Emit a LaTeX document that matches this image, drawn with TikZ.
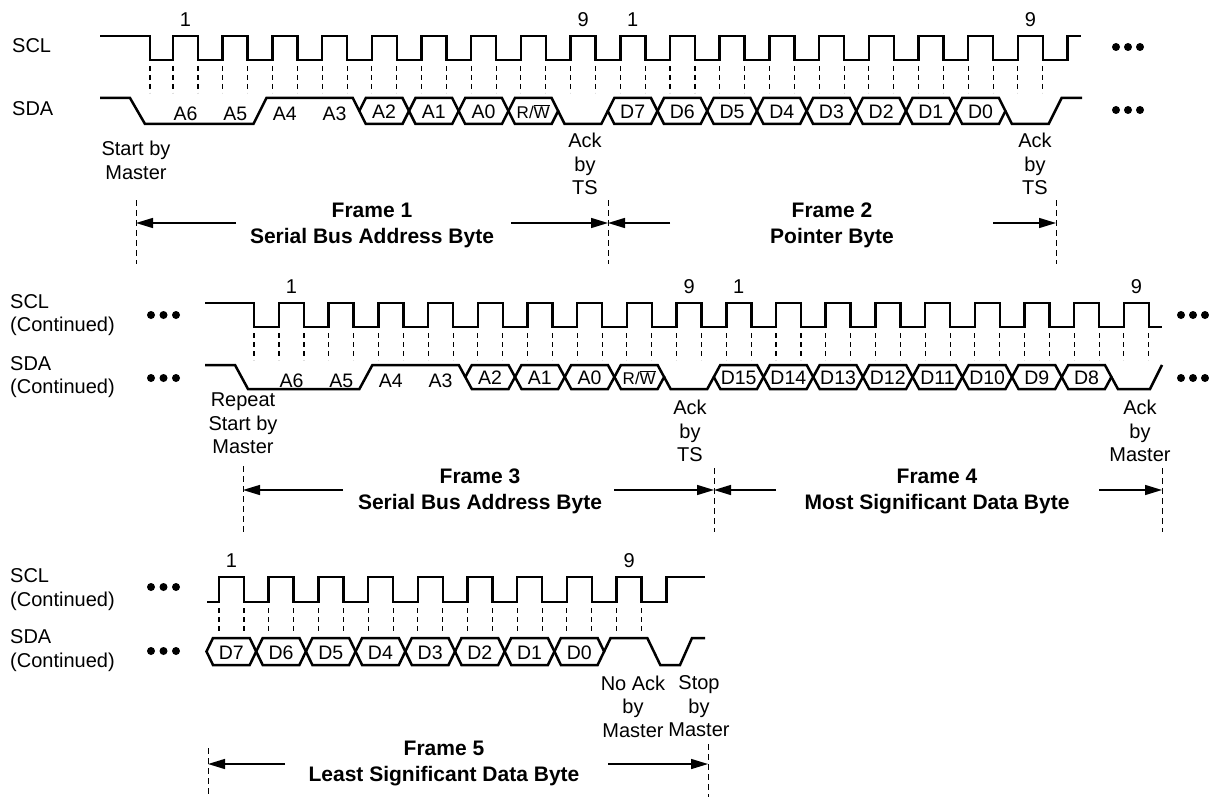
\documentclass[tikz,border=0pt]{standalone}
\usepackage{fontspec}
\setmainfont{Liberation Sans}
\usetikzlibrary{arrows.meta}
\def\per{49.7}
\def\dd{6.5}
\tikzset{
 sig/.style={line width=2.5pt, line join=miter},
 tick/.style={line width=1.1pt, dash pattern=on 5pt off 4pt},
 sep/.style={line width=1pt, dash pattern=on 6pt off 4pt},
 farrow/.style={line width=1.4pt, -{Triangle[length=17pt,width=10pt]}},
 txt/.style={font=\fontsize{20}{23.5}\selectfont, inner sep=0pt, align=center},
 btxt/.style={font=\bfseries\fontsize{21}{26}\selectfont, inner sep=0pt, align=center},
 bit/.style={font=\fontsize{19.5}{20}\selectfont, inner sep=0pt},
 rwbit/.style={font=\fontsize{17}{17}\selectfont, inner sep=0pt},
}
% hexagonal data cell: #1 start, #2 end, #3 top y, #4 bottom y, #5 label, #6 name, #7 label style
\newcommand{\hexb}[7]{%
 \pgfmathsetmacro\ha{#1}\pgfmathsetmacro\hb{#2}\pgfmathsetmacro\hm{(#3+#4)/2}%
 \draw[sig] (\ha,\hm) -- ({\ha+\dd},#3) -- ({\hb-\dd},#3) -- (\hb,\hm) -- ({\hb-\dd},#4) -- ({\ha+\dd},#4) -- cycle;
 \node[#7] (#6) at ({(\ha+\hb)/2},{\hm+1}) {#5};
}
\begin{document}
\begin{tikzpicture}[x=1pt,y=-1pt]
\fill[white] (0,0) rectangle (1209,797);
\useasboundingbox (0,0) rectangle (1209,797);

% ================= ROW 1 =================
\node[txt, anchor=west] (scl1) at (12,46) {SCL};
\node[txt, anchor=west] (sda1) at (12,109) {SDA};
\draw[sig] (100,36) -- (150,36) -- (150,60)
 \foreach \k in {0,...,17}{ -- ({173+\k*\per},60) -- ({173+\k*\per},36) -- ({198+\k*\per},36) -- ({198+\k*\per},60) }
 -- ({173+18*\per},60) -- ({173+18*\per},36) -- (1081,36);
\draw[tick] (150,66) -- ++(0,27);
\foreach \k in {0,...,17}{
 \draw[tick] ({173+\k*\per},66) -- ++(0,27);
 \draw[tick] ({198+\k*\per},66) -- ++(0,27);
}
\node[txt] (n1a) at ({173+12.5},20) {1};
\node[txt] (n1b) at ({173+8*\per+12.5},20) {9};
\node[txt] (n1c) at ({173+9*\per+12.5},20) {1};
\node[txt] (n1d) at ({173+17*\per+12.5},20) {9};
% SDA row 1
\draw[sig] (100,98) -- (130,98) -- (145,124) -- ({173+2*\per-12.5-\dd},124) -- ({173+2*\per-12.5+\dd},98)
 -- ({173+4*\per-12.5-\dd},98) -- ({173+4*\per-12.5},111);
\foreach \k/\lab in {0/A6,1/A5,2/A4,3/A3}{ \node[bit] (r1l\k) at ({173+\k*\per+12.5},114) {\lab}; }
\foreach \k/\lab in {4/A2,5/A1,6/A0}{ \hexb{173+\k*\per-12.5}{173+\k*\per+\per-12.5}{98}{124}{\lab}{r1b\k}{bit} }
\hexb{173+7*\per-12.5}{173+8*\per-12.5}{98}{124}{R/$\overline{\mbox{W}}$}{r1rw}{rwbit}
\draw[sig] ({173+8*\per-12.5},111) -- ({173+8*\per-12.5+\dd},124) -- ({173+9*\per-12.5-\dd},124) -- ({173+9*\per-12.5},111);
\foreach \k/\lab in {9/D7,10/D6,11/D5,12/D4,13/D3,14/D2,15/D1,16/D0}{ \hexb{173+\k*\per-12.5}{173+\k*\per+\per-12.5}{98}{124}{\lab}{r1d\k}{bit} }
\draw[sig] ({173+17*\per-12.5},111) -- ({173+17*\per-12.5+\dd},124) -- ({173+18*\per-12.5-\dd},124) -- ({173+18*\per-12.5+\dd},98) -- (1082,98);
\foreach \x in {1116,1128,1140}{ \fill (\x,47) circle (4); \fill (\x,110) circle (4); }
% annotations row 1
\node[txt] (st1) at (136,160.5) {Start by\\Master};
\node[txt] (ack1) at (585,164) {Ack\\by\\TS};
\node[txt] (ack2) at (1035,164) {Ack\\by\\TS};
\coordinate (f1a) at (136,200); \coordinate (f1b) at (608,200); \coordinate (f1c) at (1056,200);
\foreach \c in {f1a,f1b,f1c}{ \draw[sep] (\c) -- ++(0,64); }
\node[btxt] (fr1) at (372,225) {Frame 1\\Serial Bus Address Byte};
\node[btxt] (fr2) at (832,225) {Frame 2\\Pointer Byte};
\coordinate (a1s) at (236,223); \coordinate (a1e) at (136,223);
\coordinate (a2s) at (511,223); \coordinate (a2e) at (608,223);
\coordinate (a3s) at (670,223); \coordinate (a3e) at (608,223);
\coordinate (a4s) at (993,223); \coordinate (a4e) at (1056,223);
\draw[farrow] (a1s) -- (a1e);
\draw[farrow] (a2s) -- (a2e);
\draw[farrow] (a3s) -- (a3e);
\draw[farrow] (a4s) -- (a4e);

% ================= ROW 2 =================
\node[txt, anchor=west, align=left] (scl2) at (10,315) {SCL\\(Continued)};
\node[txt, anchor=west, align=left] (sda2) at (10,377) {SDA\\(Continued)};
\draw[sig] (205,303) -- (254,303) -- (254,327)
 \foreach \k in {0,...,17}{ -- ({279+\k*\per},327) -- ({279+\k*\per},303) -- ({304+\k*\per},303) -- ({304+\k*\per},327) }
 -- (1162,327);
\draw[tick] (254,333) -- ++(0,27);
\foreach \k in {0,...,17}{
 \draw[tick] ({279+\k*\per},333) -- ++(0,27);
 \draw[tick] ({304+\k*\per},333) -- ++(0,27);
}
\node[txt] (n2a) at ({279+12.5},287) {1};
\node[txt] (n2b) at ({279+8*\per+12.5},287) {9};
\node[txt] (n2c) at ({279+9*\per+12.5},287) {1};
\node[txt] (n2d) at ({279+17*\per+12.5},287) {9};
\draw[sig] (205,365) -- (235,365) -- (248,389) -- ({279+2*\per-12.5-\dd},389) -- ({279+2*\per-12.5+\dd},365)
 -- ({279+4*\per-12.5-\dd},365) -- ({279+4*\per-12.5},377);
\foreach \k/\lab in {0/A6,1/A5,2/A4,3/A3}{ \node[bit] (r2l\k) at ({279+\k*\per+12.5},381) {\lab}; }
\foreach \k/\lab in {4/A2,5/A1,6/A0}{ \hexb{279+\k*\per-12.5}{279+\k*\per+\per-12.5}{365}{389}{\lab}{r2b\k}{bit} }
\hexb{279+7*\per-12.5}{279+8*\per-12.5}{365}{389}{R/$\overline{\mbox{W}}$}{r2rw}{rwbit}
\draw[sig] ({279+8*\per-12.5},377) -- ({279+8*\per-12.5+\dd},389) -- ({279+9*\per-12.5-\dd},389) -- ({279+9*\per-12.5},377);
\foreach \k/\lab in {9/D15,10/D14,11/D13,12/D12,13/D11,14/D10,15/D9,16/D8}{ \hexb{279+\k*\per-12.5}{279+\k*\per+\per-12.5}{365}{389}{\lab}{r2d\k}{bit} }
\draw[sig] ({279+17*\per-12.5},377) -- ({279+17*\per-12.5+\dd},389) -- (1150,389) -- (1162,365);
\foreach \x in {151,163.5,176}{ \fill (\x,315) circle (4); \fill (\x,378) circle (4); }
\foreach \x in {1181,1193,1205}{ \fill (\x,315) circle (4); \fill (\x,378) circle (4); }
\node[txt] (st2) at (243,423.5) {Repeat\\Start by\\Master};
\node[txt] (ack3) at (690,431) {Ack\\by\\TS};
\node[txt] (ack4) at (1140,431) {Ack\\by\\Master};
\coordinate (f2a) at (243,466); \coordinate (f2b) at (714,468); \coordinate (f2c) at (1162,468);
\draw[sep] (f2a) -- ++(0,66);
\draw[sep] (f2b) -- ++(0,64);
\draw[sep] (f2c) -- ++(0,64);
\node[btxt] (fr3) at (480,491) {Frame 3\\Serial Bus Address Byte};
\node[btxt] (fr4) at (937,491) {Frame 4\\Most Significant Data Byte};
\coordinate (b1s) at (343,490); \coordinate (b1e) at (243,490);
\coordinate (b2s) at (614,490); \coordinate (b2e) at (714,490);
\coordinate (b3s) at (776,490); \coordinate (b3e) at (714,490);
\coordinate (b4s) at (1099,490); \coordinate (b4e) at (1162,490);
\draw[farrow] (b1s) -- (b1e);
\draw[farrow] (b2s) -- (b2e);
\draw[farrow] (b3s) -- (b3e);
\draw[farrow] (b4s) -- (b4e);

% ================= ROW 3 =================
\node[txt, anchor=west, align=left] (scl3) at (10,589.5) {SCL\\(Continued)};
\node[txt, anchor=west, align=left] (sda3) at (10,650.5) {SDA\\(Continued)};
\draw[sig] (207,602)
 \foreach \k in {0,...,8}{ -- ({219+\k*\per},602) -- ({219+\k*\per},577) -- ({244+\k*\per},577) -- ({244+\k*\per},602) }
 -- ({219+9*\per},602) -- ({219+9*\per},577) -- (705,577);
\foreach \k in {0,...,8}{
 \draw[tick] ({219+\k*\per},608) -- ++(0,26);
 \draw[tick] ({244+\k*\per},608) -- ++(0,26);
}
\node[txt] (n3a) at ({219+12.5},561) {1};
\node[txt] (n3b) at ({219+8*\per+12.5},561) {9};
\foreach \k/\lab in {0/D7,1/D6,2/D5,3/D4,4/D3,5/D2,6/D1,7/D0}{ \hexb{219+\k*\per-12.5}{219+\k*\per+\per-12.5}{638}{665}{\lab}{r3d\k}{bit} }
\draw[sig] ({219+8*\per-12.5},651.5) -- ({219+8*\per-12.5+\dd},638) -- ({219+9*\per-12.5-\dd},638) -- ({219+9*\per-12.5+\dd},665)
 -- (680,665) -- (692,638) -- (705,638);
\foreach \x in {151,163.5,176}{ \fill (\x,587) circle (4); \fill (\x,651) circle (4); }
\node[txt] (nack) at (633,706.5) {No Ack\\by\\Master};
\node[txt] (stop) at (699,706.5) {Stop\\by\\Master};
\coordinate (f3a) at (208,748); \coordinate (f3b) at (708,744);
\draw[sep] (f3a) -- (208,797);
\draw[sep] (f3b) -- (708,797);
\node[btxt] (fr5) at (444,763) {Frame 5\\Least Significant Data Byte};
\coordinate (c1s) at (285,764); \coordinate (c1e) at (208,764);
\coordinate (c2s) at (608,764); \coordinate (c2e) at (708,764);
\draw[farrow] (c1s) -- (c1e);
\draw[farrow] (c2s) -- (c2e);
\end{tikzpicture}
\end{document}
